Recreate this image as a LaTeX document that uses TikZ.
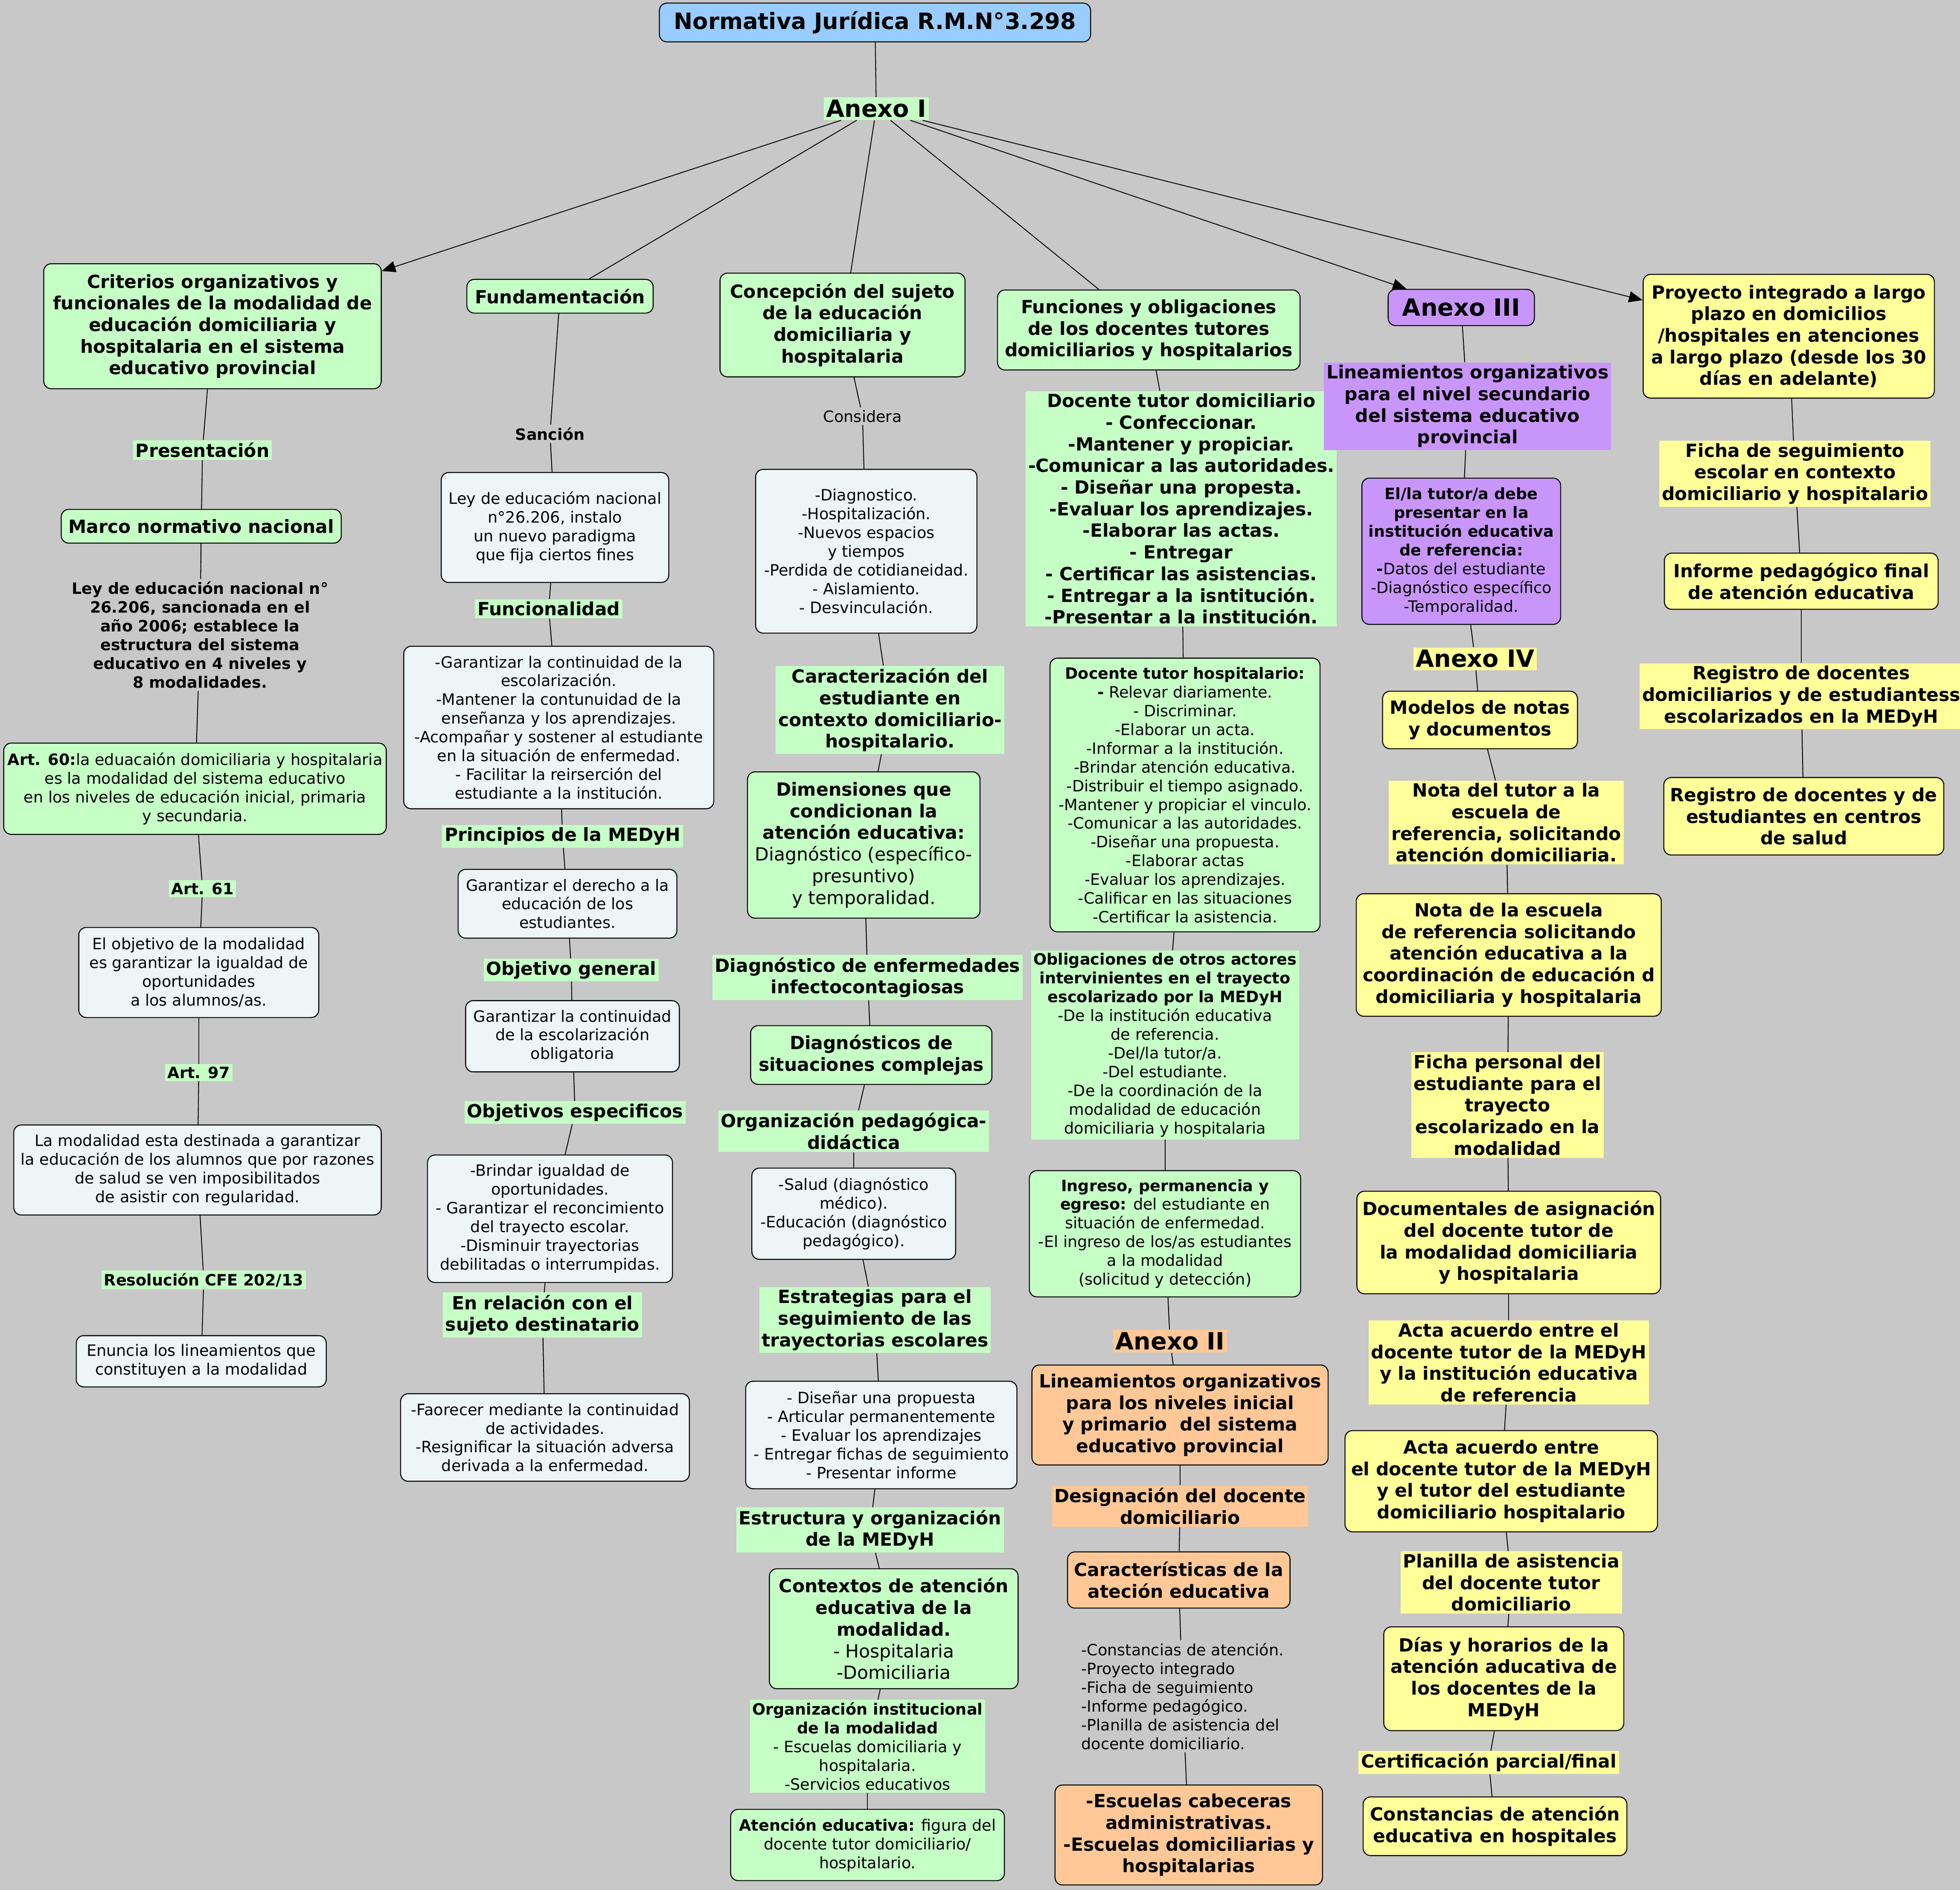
\documentclass[tikz,border=0pt]{standalone}
\usepackage{fontspec}
\setmainfont{DejaVu Sans}
\usetikzlibrary{backgrounds,arrows.meta}
\definecolor{bg}{RGB}{200,200,200}
\definecolor{gr}{RGB}{198,255,198}
\definecolor{wh}{RGB}{238,245,247}
\definecolor{ye}{RGB}{255,255,153}
\definecolor{pu}{RGB}{200,150,250}
\definecolor{orn}{RGB}{255,200,150}
\definecolor{bl}{RGB}{153,204,255}
\newcommand\fB{\fontsize{14.5}{17.3}\selectfont\bfseries}
\newcommand\fS{\fontsize{12.5}{15}\selectfont}
\newcommand\fSB{\fontsize{12.5}{15}\selectfont\bfseries}
\newcommand\fL{\fontsize{19}{22}\selectfont\bfseries}
\tikzset{
 box/.style={draw=black,line width=0.8pt,rounded corners=6pt,align=center,inner sep=2pt},
 lab/.style={inner sep=2pt,align=center},
 ln/.style={line width=0.7pt},
 ar/.style={ln,-{Triangle[length=11pt,width=9pt]}},
}
\begin{document}
\begin{tikzpicture}[x=1pt,y=-1pt]
\useasboundingbox (0,0) rectangle (1568,1512);
% title
\node[box,fill=bl,minimum width=345,minimum height=31,font=\fontsize{18}{21}\selectfont\bfseries] (t) at (700,18) {Normativa Jurídica R.M.N°3.298};
\node[lab,fill=gr,font=\fL] (a1) at (701,87) {Anexo I};
% column 1
\node[box,fill=gr,minimum width=270,minimum height=100,font=\fB] (crit) at (170,261) {Criterios organizativos y\\funcionales de la modalidad de\\educación domiciliaria y\\hospitalaria en el sistema\\educativo provincial};
\node[lab,fill=gr,font=\fB] (pres) at (162,360) {Presentación};
\node[box,fill=gr,minimum width=224,minimum height=27,font=\fB] (marco) at (161,421) {Marco normativo nacional};
\node[lab,font=\fSB] (ley) at (160,508) {Ley de educación nacional n°\\26.206, sancionada en el\\año 2006; establece la\\estructura del sistema\\educativo en 4 niveles y\\8 modalidades.};
\node[box,fill=gr,minimum width=306,minimum height=73,font=\fS] (art60) at (156,631) {\textbf{Art. 60:}la eduacaión domiciliaria y hospitalaria\\es la modalidad del sistema educativo\\en los niveles de educación inicial, primaria\\y secundaria.};
\node[lab,fill=gr,font=\fSB] (art61) at (162,711) {Art. 61};
\node[box,fill=wh,minimum width=192,minimum height=72,font=\fS] (obj) at (159,778) {El objetivo de la modalidad\\es garantizar la igualdad de\\oportunidades\\a los alumnos/as.};
\node[lab,fill=gr,font=\fSB] (art97) at (159,858) {Art. 97};
\node[box,fill=wh,minimum width=294,minimum height=72,font=\fS] (lamod) at (158,936) {La modalidad esta destinada a garantizar\\la educación de los alumnos que por razones\\de salud se ven imposibilitados\\de asistir con regularidad.};
\node[lab,fill=gr,font=\fSB] (res) at (163,1024) {Resolución CFE 202/13};
\node[box,fill=wh,minimum width=200,minimum height=41,font=\fS] (enun) at (161,1089) {Enuncia los lineamientos que\\constituyen a la modalidad};
% column 2
\node[box,fill=gr,minimum width=149,minimum height=27,font=\fB] (fund) at (448,237) {Fundamentación};
\node[lab,font=\fSB] (sanc) at (440,347) {Sanción};
\node[box,fill=wh,minimum width=182,minimum height=88,font=\fS] (leyed) at (444,422) {Ley de educacióm nacional\\n°26.206, instalo\\un nuevo paradigma\\que fija ciertos fines};
\node[lab,fill=gr,font=\fB] (funcional) at (439,487) {Funcionalidad};
\node[box,fill=wh,minimum width=248,minimum height=130,font=\fS] (garant) at (447,582) {-Garantizar la continuidad de la\\escolarización.\\-Mantener la contunuidad de la\\enseñanza y los aprendizajes.\\-Acompañar y sostener al estudiante\\en la situación de enfermedad.\\- Facilitar la reirserción del\\estudiante a la institución.};
\node[lab,fill=gr,font=\fB] (princ) at (450,669) {Principios de la MEDyH};
\node[box,fill=wh,minimum width=175,minimum height=55,font=\fS] (gder) at (454,723) {Garantizar el derecho a la\\educación de los\\estudiantes.};
\node[lab,fill=gr,font=\fB] (objg) at (457,776) {Objetivo general};
\node[box,fill=wh,minimum width=171,minimum height=57,font=\fS] (gcont) at (458,829) {Garantizar la continuidad\\de la escolarización\\obligatoria};
\node[lab,fill=gr,font=\fB] (objesp) at (460,890) {Objetivos especificos};
\node[box,fill=wh,minimum width=196,minimum height=102,font=\fS] (brindar) at (440,975) {-Brindar igualdad de\\oportunidades.\\- Garantizar el reconcimiento\\del trayecto escolar.\\-Disminuir trayectorias\\debilitadas o interrumpidas.};
\node[lab,fill=gr,font=\fB] (enrel) at (434,1052) {En relación con el\\sujeto destinatario};
\node[box,fill=wh,minimum width=231,minimum height=70,font=\fS] (faor) at (436,1150) {-Faorecer mediante la continuidad\\de actividades.\\-Resignificar la situación adversa\\derivada a la enfermedad.};
% column 3
\node[box,fill=gr,minimum width=196,minimum height=83,font=\fB] (conc) at (674,260) {Concepción del sujeto\\de la educación\\domiciliaria y\\hospitalaria};
\node[lab,font=\fS] (consid) at (690,333) {Considera};
\node[box,fill=wh,minimum width=177,minimum height=131,font=\fS] (diag) at (693,441) {-Diagnostico.\\-Hospitalización.\\-Nuevos espacios\\y tiempos\\-Perdida de cotidianeidad.\\- Aislamiento.\\- Desvinculación.};
\node[lab,fill=gr,font=\fB] (caract) at (712,568) {Caracterización del\\estudiante en\\contexto domiciliario-\\hospitalario.};
\node[box,fill=gr,minimum width=186,minimum height=117,font=\fB] (dimen) at (691,676) {Dimensiones que\\condicionan la\\atención educativa:\\{\mdseries Diagnóstico (específico-}\\{\mdseries presuntivo)}\\{\mdseries y temporalidad.}};
\node[lab,fill=gr,font=\fB] (diagenf) at (694,782) {Diagnóstico de enfermedades\\infectocontagiosas};
\node[box,fill=gr,minimum width=193,minimum height=47,font=\fB] (diagsit) at (697,844) {Diagnósticos de\\situaciones complejas};
\node[lab,fill=gr,font=\fB] (orgped) at (683,905) {Organización pedagógica-\\didáctica};
\node[box,fill=wh,minimum width=163,minimum height=73,font=\fS] (salud) at (683,971) {-Salud (diagnóstico\\médico).\\-Educación (diagnóstico\\pedagógico).};
\node[lab,fill=gr,font=\fB] (estrat) at (700,1056) {Estrategias para el\\seguimiento de las\\trayectorias escolares};
\node[box,fill=wh,minimum width=217,minimum height=86,font=\fS] (disenar) at (705,1148) {- Diseñar una propuesta\\- Articular permanentemente\\- Evaluar los aprendizajes\\- Entregar fichas de seguimiento\\- Presentar informe};
\node[lab,fill=gr,font=\fB] (estruc) at (696,1224) {Estructura y organización\\de la MEDyH};
\node[box,fill=gr,minimum width=199,minimum height=96,font=\fB] (context) at (715,1303) {Contextos de atención\\educativa de la\\modalidad.\\{\mdseries - Hospitalaria}\\{\mdseries -Domiciliaria}};
\node[lab,fill=gr,font=\fS] (orginst) at (694,1397) {\textbf{Organización institucional}\\\textbf{de la modalidad}\\- Escuelas domiciliaria y\\hospitalaria.\\-Servicios educativos};
\node[box,fill=gr,minimum width=219,minimum height=57,font=\fS] (atenc) at (694,1476) {\textbf{Atención educativa:} figura del\\docente tutor domiciliario/\\hospitalario.};
% column 4
\node[box,fill=gr,minimum width=242,minimum height=64,font=\fB] (func) at (919,264) {Funciones y obligaciones\\de los docentes tutores\\domiciliarios y hospitalarios};
\node[lab,fill=gr,font=\fB] (dtd) at (945,407) {Docente tutor domiciliario\\- Confeccionar.\\-Mantener y propiciar.\\-Comunicar a las autoridades.\\- Diseñar una propesta.\\-Evaluar los aprendizajes.\\-Elaborar las actas.\\- Entregar\\- Certificar las asistencias.\\- Entregar a la isntitución.\\-Presentar a la institución.};
\node[box,fill=gr,minimum width=216,minimum height=219,font=\fS] (dth) at (948,636) {\textbf{Docente tutor hospitalario:}\\\textbf{-} Relevar diariamente.\\- Discriminar.\\-Elaborar un acta.\\-Informar a la institución.\\-Brindar atención educativa.\\-Distribuir el tiempo asignado.\\-Mantener y propiciar el vinculo.\\-Comunicar a las autoridades.\\-Diseñar una propuesta.\\-Elaborar actas\\-Evaluar los aprendizajes.\\-Calificar en las situaciones\\-Certificar la asistencia.};
\node[lab,fill=gr,font=\fS,minimum width=205] (oblig) at (932,836) {\textbf{Obligaciones de otros actores}\\\textbf{intervinientes en el trayecto}\\\textbf{escolarizado por la MEDyH}\\-De la institución educativa\\de referencia.\\-Del/la tutor/a.\\-Del estudiante.\\-De la coordinación de la\\modalidad de educación\\domiciliaria y hospitalaria};
\node[box,fill=gr,minimum width=217,minimum height=101,font=\fS] (ingreso) at (932,987) {\textbf{Ingreso, permanencia y}\\\textbf{egreso:} del estudiante en\\situación de enfermedad.\\-El ingreso de los/as estudiantes\\a la modalidad\\(solicitud y detección)};
\node[lab,fill=orn,font=\fL] (a2) at (936,1073) {Anexo II};
\node[box,fill=orn,minimum width=237,minimum height=80,font=\fB] (lin2) at (944,1132) {Lineamientos organizativos\\para los niveles inicial\\y primario~ del sistema\\educativo provincial};
\node[lab,fill=orn,font=\fB] (design) at (944,1205) {Designación del docente\\domiciliario};
\node[box,fill=orn,minimum width=178,minimum height=45,font=\fB] (car2) at (943,1264) {Características de la\\ateción educativa};
\node[lab,font=\fS,align=left] (constx) at (946,1357) {-Constancias de atención.\\-Proyecto integrado\\-Ficha de seguimiento\\-Informe pedagógico.\\-Planilla de asistencia del\\docente domiciliario.};
\node[box,fill=orn,minimum width=214,minimum height=80,font=\fB] (escu) at (951,1468) {-Escuelas cabeceras\\administrativas.\\-Escuelas domiciliarias y\\hospitalarias};
% column 5
\node[box,fill=pu,minimum width=117,minimum height=29,font=\fL] (a3) at (1169,246) {Anexo III};
\node[lab,fill=pu,font=\fB,minimum width=226,minimum height=69] (lin3) at (1174,325) {Lineamientos organizativos\\para el nivel secundario\\del sistema educativo\\provincial};
\node[box,fill=pu,minimum width=159,minimum height=117,font=\fS] (tutor) at (1169,441) {\textbf{El/la tutor/a debe}\\\textbf{presentar en la}\\\textbf{institución educativa}\\\textbf{de referencia:}\\\textbf{-}Datos del estudiante\\-Diagnóstico específico\\-Temporalidad.};
\node[lab,fill=ye,font=\fL] (a4) at (1180,527) {Anexo IV};
\node[box,fill=ye,minimum width=156,minimum height=46,font=\fB] (model) at (1184,576) {Modelos de notas\\y documentos};
\node[lab,fill=ye,font=\fB] (notat) at (1205,658) {Nota del tutor a la\\escuela de\\referencia, solicitando\\atención domiciliaria.};
\node[box,fill=ye,minimum width=244,minimum height=98,font=\fB] (notae) at (1207,764) {Nota de la escuela\\de referencia solicitando\\atención educativa a la\\coordinación de educación d\\domiciliaria y hospitalaria};
\node[lab,fill=ye,font=\fB] (fichap) at (1206,884) {Ficha personal del\\estudiante para el\\trayecto\\escolarizado en la\\modalidad};
\node[box,fill=ye,minimum width=243,minimum height=82,font=\fB] (docum) at (1207,994) {Documentales de asignación\\del docente tutor de\\la modalidad domiciliaria\\y hospitalaria};
\node[lab,fill=ye,font=\fB] (acta1) at (1207,1090) {Acta acuerdo entre el\\docente tutor de la MEDyH\\y la institución educativa\\de referencia};
\node[box,fill=ye,minimum width=250,minimum height=81,font=\fB] (acta2) at (1201,1185) {Acta acuerdo entre\\el docente tutor de la MEDyH\\y el tutor del estudiante\\domiciliario hospitalario};
\node[lab,fill=ye,font=\fB] (plan) at (1209,1266) {Planilla de asistencia\\del docente tutor\\domiciliario};
\node[box,fill=ye,minimum width=192,minimum height=83,font=\fB] (dias) at (1203,1343) {Días y horarios de la\\atención aducativa de\\los docentes de la\\MEDyH};
\node[lab,fill=ye,font=\fB] (cert) at (1191,1410) {Certificación parcial/final};
\node[box,fill=ye,minimum width=211,minimum height=47,font=\fB] (const) at (1196,1461) {Constancias de atención\\educativa en hospitales};
% column 6
\node[box,fill=ye,minimum width=233,minimum height=99,font=\fB] (proy) at (1431,269) {Proyecto integrado a largo\\plazo en domicilios\\/hospitales en atenciones\\a largo plazo (desde los 30\\días en adelante)};
\node[lab,fill=ye,font=\fB] (fichas) at (1436,379) {Ficha de seguimiento\\escolar en contexto\\domiciliario y hospitalario};
\node[box,fill=ye,minimum width=219,minimum height=45,font=\fB] (inf) at (1441,465) {Informe pedagógico final\\de atención educativa};
\node[lab,fill=ye,font=\fB] (reg1) at (1441,557) {Registro de docentes\\domiciliarios y de estudiantess\\escolarizados en la MEDyH};
\node[box,fill=ye,minimum width=224,minimum height=62,font=\fB] (reg2) at (1443,653) {Registro de docentes y de\\estudiantes en centros\\de salud};
\begin{scope}[on background layer]
\fill[bg] (0,0) rectangle (1568,1512);
\draw[ln] (t)--(a1);
\draw[ar] (a1)--(crit);
\draw[ln] (a1)--(fund);
\draw[ln] (a1)--(conc);
\draw[ln] (a1)--(func);
\draw[ar] (a1)--(a3);
\draw[ar] (a1)--(proy);
\foreach \a/\b in {crit/pres,pres/marco,marco/ley,ley/art60,art60/art61,art61/obj,obj/art97,art97/lamod,lamod/res,res/enun,
 fund/sanc,sanc/leyed,leyed/funcional,funcional/garant,garant/princ,princ/gder,gder/objg,objg/gcont,gcont/objesp,objesp/brindar,brindar/enrel,enrel/faor,
 conc/consid,consid/diag,diag/caract,caract/dimen,dimen/diagenf,diagenf/diagsit,diagsit/orgped,orgped/salud,salud/estrat,estrat/disenar,disenar/estruc,estruc/context,context/orginst,orginst/atenc,
 func/dtd,dtd/dth,dth/oblig,oblig/ingreso,ingreso/a2,a2/lin2,lin2/design,design/car2,car2/constx,constx/escu,
 a3/lin3,lin3/tutor,tutor/a4,a4/model,model/notat,notat/notae,notae/fichap,fichap/docum,docum/acta1,acta1/acta2,acta2/plan,plan/dias,dias/cert,cert/const,
 proy/fichas,fichas/inf,inf/reg1,reg1/reg2}
 \draw[ln] (\a)--(\b);
\end{scope}
\end{tikzpicture}
\end{document}
